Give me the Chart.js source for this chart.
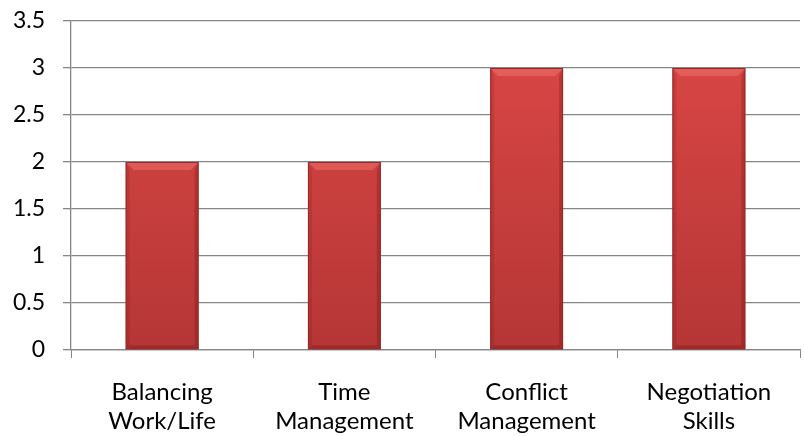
<!DOCTYPE html>
<html>
<head>
<meta charset="utf-8">
<script src="https://cdn.jsdelivr.net/npm/chart.js@4.4.1/dist/chart.umd.min.js"></script>
<style>
  html, body { margin: 0; padding: 0; background: #fff; }
  #wrap { width: 804px; height: 436px; }
</style>
</head>
<body>
<div id="wrap"><canvas id="chart"></canvas></div>
<script>
var categories = [['Balancing', 'Work/Life'], ['Time', 'Management'], ['Conflict', 'Management'], ['Negotiation', 'Skills']];
var values = [2, 2, 3, 3];
var yMin = 0;
var yMax = 3.5;
var yStep = 0.5;

var gridColor = '#868686';

// Excel-style bevel drawn over each bar.
var bevel = {
  id: 'bevel',
  afterDatasetsDraw: function (chart) {
    var ctx = chart.ctx;
    chart.getDatasetMeta(0).data.forEach(function (bar) {
      var l = bar.x - bar.width / 2, r = bar.x + bar.width / 2;
      var t = bar.y, b = bar.base, d = 8;
      ctx.save();
      // top facet
      ctx.beginPath();
      ctx.moveTo(l, t); ctx.lineTo(r, t); ctx.lineTo(r - d, t + d); ctx.lineTo(l + d, t + d); ctx.closePath();
      ctx.fillStyle = 'rgba(255,140,130,0.35)';
      ctx.fill();
      // right facet
      ctx.beginPath();
      ctx.moveTo(r, t); ctx.lineTo(r - 4, t + d); ctx.lineTo(r - 4, b - 4); ctx.lineTo(r, b); ctx.closePath();
      ctx.fillStyle = 'rgba(90,0,0,0.22)';
      ctx.fill();
      // left facet
      ctx.beginPath();
      ctx.moveTo(l, t); ctx.lineTo(l + 4, t + d); ctx.lineTo(l + 4, b - 4); ctx.lineTo(l, b); ctx.closePath();
      ctx.fillStyle = 'rgba(90,0,0,0.12)';
      ctx.fill();
      // bottom facet
      ctx.beginPath();
      ctx.moveTo(l, b); ctx.lineTo(r, b); ctx.lineTo(r - 4, b - 4); ctx.lineTo(l + 4, b - 4); ctx.closePath();
      ctx.fillStyle = 'rgba(90,0,0,0.22)';
      ctx.fill();
      ctx.strokeStyle = '#932c2c';
      ctx.lineWidth = 1;
      ctx.strokeRect(l + 0.5, t + 0.5, bar.width - 1, b - t - 1);
      ctx.restore();
    });
  }
};

function barFill(context) {
  var area = context.chart.chartArea;
  if (!area) {
    return '#d4403e';
  }
  var g = context.chart.ctx.createLinearGradient(0, area.top, 0, area.bottom);
  g.addColorStop(0, '#dc4846');
  g.addColorStop(1, '#b53636');
  return g;
}

new Chart(document.getElementById('chart'), {
  type: 'bar',
  data: {
    labels: categories,
    datasets: [{
      data: values,
      backgroundColor: barFill,
      borderWidth: 0,
      categoryPercentage: 1,
      barPercentage: 0.4
    }]
  },
  options: {
    responsive: true,
    maintainAspectRatio: false,
    animation: false,
    layout: { padding: { left: 0, right: 4, top: 21, bottom: 0 } },
    plugins: {
      legend: { display: false },
      tooltip: { enabled: false }
    },
    scales: {
      x: {
        grid: {
          display: true,
          drawOnChartArea: false,
          drawTicks: true,
          tickLength: 8,
          color: gridColor,
          offset: true
        },
        border: { color: gridColor, width: 1.3 },
        ticks: {
          color: '#000',
          font: { family: 'Lato', size: 24, lineHeight: 1.2 },
          padding: 20,
          maxRotation: 0
        },
        afterFit: function (scale) {
          scale.height = 86;
          scale.paddingLeft = 0;
          scale.paddingRight = 0;
        }
      },
      y: {
        min: yMin,
        max: yMax,
        grid: {
          color: gridColor,
          lineWidth: 1.3,
          tickLength: 8
        },
        border: { color: gridColor, width: 1.3 },
        ticks: {
          stepSize: yStep,
          color: '#000',
          font: { family: 'Lato', size: 23 },
          padding: 18,
          callback: function (v) { return String(v); }
        },
        afterFit: function (scale) {
          scale.width = 71;
          scale.paddingTop = 0;
          scale.paddingBottom = 0;
        }
      }
    }
  },
  plugins: [bevel]
});
</script>
</body>
</html>
